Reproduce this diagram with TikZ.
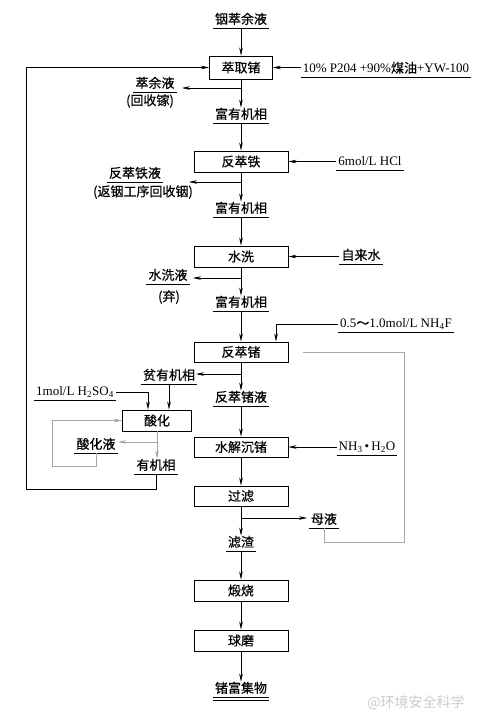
\documentclass[tikz,border=0pt]{standalone}
\usepackage{fontspec}
\setmainfont{Liberation Serif}
\newfontfamily\cjk[FakeBold=0.3]{Noto Sans CJK SC}
\newfontfamily\cjkwm{Noto Sans CJK SC}
\usetikzlibrary{arrows.meta}
\tikzset{
  every node/.append style={font=\fontsize{13}{15}\selectfont},
  zh/.style={font=\cjk\fontsize{13}{15}\selectfont},
  box/.style={draw, line width=0.9pt, minimum width=94pt, minimum height=21pt, inner sep=0pt, font=\cjk\fontsize{13}{15}\selectfont},
  lbl/.style={inner xsep=2pt, inner ysep=1pt, text height=10pt, text depth=3pt, anchor=south,
    append after command={(\tikzlastnode.south west) edge[line width=0.6pt] (\tikzlastnode.south east)}},
  lbltwo/.style={inner xsep=2pt, inner ysep=1pt, text height=10pt, text depth=3pt, anchor=south,
    append after command={(\tikzlastnode.south west) edge[line width=0.6pt] (\tikzlastnode.south east)
      ([yshift=-3pt]\tikzlastnode.south west) edge[line width=0.6pt] ([yshift=-3pt]\tikzlastnode.south east)}},
  note/.style={inner sep=1pt, font=\cjk\fontsize{13}{15}\selectfont},
  arr/.style={line width=0.6pt, -{Stealth[length=8pt,width=3.6pt]}},
  garr/.style={arr, draw=gray!70},
  gline/.style={line width=0.6pt, draw=gray!70},
}
\begin{document}
\begin{tikzpicture}[x=1pt,y=-1pt]
\fill[white] (0,0) rectangle (481,721);
\useasboundingbox (0,0) rectangle (481,721);

% main column
\node[lbl,zh] (l0) at (241,28) {铟萃余液};
\node[box,minimum width=63pt,minimum height=23pt] (b1) at (241,67.5) {萃取锗};
\node[lbl] (r1) at (386,77) {10\% P204 +90\%{\cjk 煤油}+YW-100};
\node[lbl,zh] (lraff) at (155,92) {萃余液};
\node[note] (nraff) at (150,101) {(回收镓)};
\node[lbl,zh] (l1) at (241,123) {富有机相};

\node[box] (b2) at (241,161.5) {反萃铁};
\node[lbl] (r2) at (370,170) {6mol/L HCl};
\node[lbl,zh] (lfe) at (135,182) {反萃铁液};
\node[note] (nfe) at (143,192) {(返铟工序回收铟)};
\node[lbl,zh] (l2) at (241,217) {富有机相};

\node[box] (b3) at (241,256.5) {水洗};
\node[lbl,zh] (r3) at (361,264) {自来水};
\node[lbl,zh] (lw) at (168,284) {水洗液};
\node[note] (nw) at (169,297) {(弃)};
\node[lbl,zh] (l3) at (241,311) {富有机相};

\node[box,minimum height=20pt] (b4) at (241,352) {反萃锗};
\node[lbl] (r4) at (396,332) {0.5{\cjk ～}1.0mol/L NH\textsubscript{4}F};
\node[lbl,zh] (lpoor) at (169,384) {贫有机相};
\node[lbl,zh] (l4) at (241,406) {反萃锗液};

\node[lbl] (lh2) at (75,400) {1mol/L H\textsubscript{2}SO\textsubscript{4}};
\node[box,minimum width=69pt] (b5) at (157,420.5) {酸化};
\node[lbl,zh] (lacid) at (96,453) {酸化液};
\node[lbl,zh] (lorg) at (156,474) {有机相};

\node[box,minimum height=20pt] (b6) at (241,447) {水解沉锗};
\node[lbl] (r6) at (367,455) {NH\textsubscript{3}\,•\,H\textsubscript{2}O};
\node[box,minimum height=20pt] (b7) at (241,496) {过滤};
\node[lbl,zh] (lmother) at (324,528) {母液};
\node[lbl,zh] (l7) at (241,551) {滤渣};
\node[box] (b8) at (241,590.5) {煅烧};
\node[box] (b9) at (241,640.5) {球磨};
\node[lbltwo,zh] (l9) at (241,697) {锗富集物};

\node[font=\cjkwm\fontsize{14}{16}\selectfont, text=gray!40] (wm) at (416,703) {@环境安全科学};

% coordinates
\coordinate (j1) at (241,88);   \coordinate (e1) at (182,88);
\coordinate (j2) at (241,182);  \coordinate (e2) at (189,182);
\coordinate (j3) at (241,278);  \coordinate (e3) at (193,278);
\coordinate (j4) at (241,374);  \coordinate (e4) at (196,374);
\coordinate (j5) at (157,442);  \coordinate (e5) at (118,442);
\coordinate (j7) at (241,518);  \coordinate (e7) at (307,518);
\coordinate (c5) at (52,466);
\coordinate (c6) at (26,489);
\coordinate (c7) at (404,542);

% main flow
\draw[arr] (l0.south) -- (b1.north);
\draw[arr] (b1.south) -- (l1.north);
\draw[arr] (l1.south) -- (b2.north);
\draw[arr] (b2.south) -- (l2.north);
\draw[arr] (l2.south) -- (b3.north);
\draw[arr] (b3.south) -- (l3.north);
\draw[arr] (l3.south) -- (b4.north);
\draw[arr] (b4.south) -- (l4.north);
\draw[arr] (l4.south) -- (b6.north);
\draw[arr] (b6.south) -- (b7.north);
\draw[arr] (b7.south) -- (l7.north);
\draw[arr] (l7.south) -- (b8.north);
\draw[arr] (b8.south) -- (b9.north);
\draw[arr] (b9.south) -- (l9.north);

% side inputs
\draw[arr] (b1.east -| r1.west) -- (b1.east);
\draw[arr] (b2.east -| r2.west) -- (b2.east);
\draw[arr] (b3.east -| r3.west) -- (b3.east);
\draw[arr] (b6.east -| r6.west) -- (b6.east);
\draw[arr] (r4.west) -| ([xshift=35pt]b4.north);

% branches
\draw[arr] (j1) -- (e1);
\draw[arr] (j2) -- (e2);
\draw[arr] (j3) -- (e3);
\draw[arr] (j4) -- (e4);
\draw[arr] (j7) -- (e7);

% acidification
\draw[arr] (lh2.east) -| ([xshift=-9pt]b5.north);
\draw[arr] (lpoor.south) -- (lpoor.south |- b5.north);
\draw[garr] (b5.south) -- (b5.south |- lorg.north);
\draw[garr] (j5) -- (e5);
\draw[garr] (lacid.south) |- (c5) |- (b5.west);
\draw[arr] (lorg.south) |- (c6) |- (b1.west);

% mother liquor return
\draw[gline] (lmother.south) |- (c7) |- ([xshift=15pt]b4.east);
\end{tikzpicture}
\end{document}
